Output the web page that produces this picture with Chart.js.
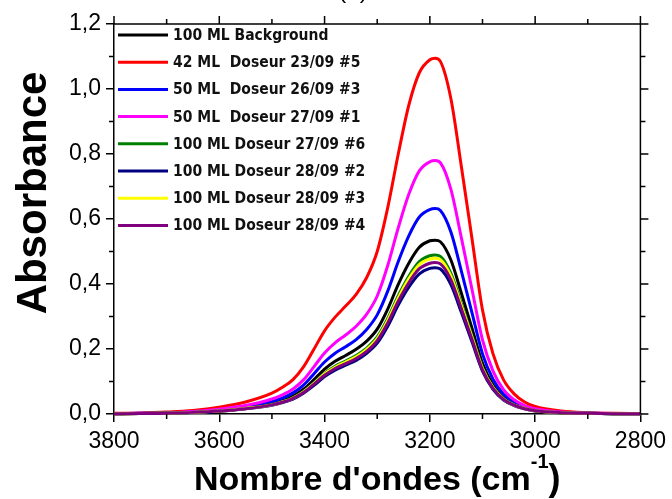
<!DOCTYPE html>
<html>
<head>
<meta charset="utf-8">
<script src="https://cdn.jsdelivr.net/npm/chart.js@4.4.1/dist/chart.umd.min.js"></script>
<style>
  html, body { margin: 0; padding: 0; background: #ffffff; }
  #wrap { width: 672px; height: 499px; position: relative; }
</style>
</head>
<body>
<div id="wrap"><canvas id="c" width="672" height="499"></canvas></div>
<script>
// ---- data ----
const wavenumbers = [3800,3750,3700,3650,3600,3550,3500,3480,3460,3440,3420,3400,3380,3360,3340,3320,3300,3280,3260,3240,3220,3200,3190,3180,3160,3140,3120,3100,3080,3060,3040,3020,3000,2950,2900,2850,2800];

const seriesLabels = [
  "100 ML Background",
  "42 ML  Doseur 23/09 #5",
  "50 ML  Doseur 26/09 #3",
  "50 ML  Doseur 27/09 #1",
  "100 ML Doseur 27/09 #6",
  "100 ML Doseur 28/09 #2",
  "100 ML Doseur 28/09 #3",
  "100 ML Doseur 28/09 #4"
];

const background100 = [0.001,0.0015,0.003,0.005,0.010,0.018,0.032,0.042,0.055,0.076,0.106,0.138,0.162,0.180,0.199,0.224,0.261,0.323,0.399,0.464,0.513,0.533,0.535,0.530,0.474,0.371,0.264,0.156,0.090,0.051,0.030,0.018,0.011,0.004,0.002,0.001,0.0005];
const doseur42_2309_5 = [0.002,0.003,0.006,0.011,0.021,0.037,0.064,0.082,0.106,0.145,0.200,0.256,0.298,0.332,0.368,0.420,0.500,0.635,0.800,0.950,1.050,1.090,1.095,1.085,0.970,0.760,0.540,0.320,0.185,0.105,0.062,0.037,0.023,0.009,0.004,0.002,0.001];
const doseur50_2609_3 = [0.001,0.002,0.003,0.006,0.012,0.021,0.038,0.049,0.065,0.089,0.124,0.160,0.187,0.207,0.229,0.260,0.305,0.378,0.469,0.548,0.606,0.629,0.632,0.626,0.560,0.439,0.312,0.185,0.107,0.061,0.036,0.021,0.013,0.005,0.002,0.001,0.001];
const doseur50_2709_1 = [0.001,0.002,0.004,0.008,0.015,0.026,0.046,0.059,0.077,0.105,0.146,0.188,0.219,0.243,0.270,0.307,0.363,0.457,0.573,0.676,0.748,0.776,0.780,0.773,0.691,0.541,0.384,0.228,0.132,0.075,0.044,0.026,0.016,0.006,0.003,0.0015,0.001];
const doseur100_2709_6 = [0.001,0.0013,0.0027,0.005,0.009,0.017,0.029,0.038,0.050,0.069,0.096,0.125,0.147,0.163,0.180,0.203,0.237,0.294,0.364,0.424,0.469,0.487,0.489,0.485,0.433,0.339,0.241,0.143,0.083,0.047,0.028,0.017,0.010,0.004,0.002,0.001,0.0005];
const doseur100_2809_2 = [0.001,0.0012,0.0025,0.0046,0.008,0.016,0.027,0.035,0.046,0.064,0.088,0.115,0.135,0.150,0.165,0.187,0.218,0.270,0.335,0.390,0.431,0.448,0.450,0.446,0.398,0.312,0.222,0.132,0.076,0.043,0.026,0.016,0.009,0.004,0.002,0.001,0.0005];
const doseur100_2809_3 = [0.001,0.0013,0.0026,0.005,0.009,0.017,0.028,0.037,0.049,0.068,0.094,0.123,0.144,0.160,0.176,0.199,0.232,0.288,0.357,0.416,0.460,0.477,0.479,0.475,0.424,0.332,0.236,0.140,0.081,0.046,0.027,0.017,0.010,0.004,0.002,0.001,0.0005];
const doseur100_2809_4 = [0.001,0.0012,0.0026,0.005,0.009,0.016,0.028,0.036,0.048,0.066,0.092,0.119,0.140,0.155,0.171,0.193,0.226,0.280,0.347,0.404,0.447,0.464,0.466,0.462,0.413,0.323,0.230,0.136,0.079,0.045,0.027,0.016,0.010,0.004,0.002,0.001,0.0005];

const xTicks = [3800,3600,3400,3200,3000,2800];
const yTicks = [0.0,0.2,0.4,0.6,0.8,1.0,1.2];

// ---- styling ----
const allSeries = [background100, doseur42_2309_5, doseur50_2609_3, doseur50_2709_1, doseur100_2709_6, doseur100_2809_2, doseur100_2809_3, doseur100_2809_4];
const colors = ["#000000","#ff0000","#0000ff","#ff00ff","#008000","#000080","#ffff00","#800080"];

const datasets = allSeries.map((vals, i) => ({
  label: seriesLabels[i],
  data: wavenumbers.map((w, k) => ({ x: w, y: vals[k] })),
  borderColor: colors[i],
  backgroundColor: colors[i],
  borderWidth: 3,
  pointRadius: 0,
  fill: false,
  cubicInterpolationMode: 'monotone',
  clip: false,
  order: allSeries.length - i
}));

const TICK_FONT = { family: "'Liberation Sans', Arial, sans-serif", size: 23 };

const extras = {
  id: 'extras',
  afterDraw(chart) {
    const ctx = chart.ctx;
    const a = chart.chartArea;
    const xs = chart.scales.x, ys = chart.scales.y;
    ctx.save();
    ctx.strokeStyle = '#000';
    ctx.lineWidth = 1.5;
    // frame top & right
    ctx.beginPath();
    ctx.moveTo(a.left, a.top); ctx.lineTo(a.right, a.top);
    ctx.moveTo(a.right, a.top); ctx.lineTo(a.right, a.bottom);
    ctx.stroke();
    // x ticks on top (major+minor), minor at bottom
    ctx.beginPath();
    for (let v = 2800; v <= 3800; v += 100) {
      const px = xs.getPixelForValue(v);
      const major = (v % 200 === 0);
      const len = major ? 8 : 5;
      ctx.moveTo(px, a.top); ctx.lineTo(px, a.top - len);
      if (!major) { ctx.moveTo(px, a.bottom); ctx.lineTo(px, a.bottom + len); }
    }
    for (let k = 0; k <= 12; k++) {
      const v = k / 10;
      const py = ys.getPixelForValue(v);
      const major = (k % 2 === 0);
      const len = major ? 8 : 5;
      ctx.moveTo(a.right, py); ctx.lineTo(a.right + len, py);
      if (!major) { ctx.moveTo(a.left, py); ctx.lineTo(a.left - len, py); }
    }
    ctx.stroke();

    // legend inside plot
    const lx0 = a.left + 4, lx1 = a.left + 54, tx = a.left + 59;
    let ly = 35;
    ctx.font = "bold 15.5px 'DejaVu Sans Condensed', 'DejaVu Sans', sans-serif";
    ctx.textBaseline = 'middle';
    ctx.textAlign = 'left';
    chart.data.datasets.forEach((ds) => {
      ctx.strokeStyle = ds.borderColor;
      ctx.lineWidth = 3;
      ctx.beginPath(); ctx.moveTo(lx0, ly); ctx.lineTo(lx1, ly); ctx.stroke();
      ctx.fillStyle = '#111';
      ctx.fillText(ds.label, tx, ly + 1);
      ly += 27.2;
    });

    // axis titles
    ctx.fillStyle = '#000';
    ctx.font = "bold 42px 'Liberation Sans', Arial, sans-serif";
    ctx.save();
    ctx.translate(46, 193);
    ctx.rotate(-Math.PI / 2);
    ctx.textAlign = 'center';
    ctx.textBaseline = 'alphabetic';
    ctx.fillText('Absorbance', 0, 0);
    ctx.restore();

    ctx.font = "bold 34px 'Liberation Sans', Arial, sans-serif";
    ctx.textBaseline = 'alphabetic';
    const main = "Nombre d'ondes (cm";
    const sup = "-1";
    const close = ")";
    const wMain = ctx.measureText(main).width;
    ctx.font = "bold 20px 'Liberation Sans', Arial, sans-serif";
    const wSup = ctx.measureText(sup).width;
    ctx.font = "bold 36px 'Liberation Sans', Arial, sans-serif";
    const wClose = ctx.measureText(close).width;
    const total = wMain + wSup + wClose;
    let sx = (a.left + a.right) / 2 - total / 2;
    const base = 490;
    ctx.textAlign = 'left';
    ctx.font = "bold 34px 'Liberation Sans', Arial, sans-serif";
    ctx.fillText(main, sx, base);
    ctx.font = "bold 20px 'Liberation Sans', Arial, sans-serif";
    ctx.fillText(sup, sx + wMain, base - 22);
    ctx.font = "bold 36px 'Liberation Sans', Arial, sans-serif";
    ctx.fillText(close, sx + wMain + wSup, base);

    // partially visible panel label
    ctx.font = "24px 'Liberation Sans', Arial, sans-serif";
    ctx.textAlign = 'center';
    ctx.fillText('(a)', 353, -2);
    ctx.restore();
  }
};

new Chart(document.getElementById('c'), {
  type: 'line',
  data: { datasets },
  options: {
    responsive: false,
    animation: false,
    devicePixelRatio: 1,
    layout: { padding: { top: 24, right: 30, left: 0, bottom: 0 } },
    plugins: { legend: { display: false }, tooltip: { enabled: false }, title: { display: false } },
    scales: {
      x: {
        type: 'linear',
        reverse: true,
        min: 2800, max: 3800,
        afterFit(scale) { scale.height = 85; },
        afterBuildTicks(scale) { scale.ticks = xTicks.map(v => ({ value: v })); },
        ticks: { color: '#000', font: TICK_FONT, padding: 6, maxRotation: 0, autoSkip: false,
                 callback: (v) => String(v) },
        grid: { drawOnChartArea: false, drawTicks: true, tickLength: 8, color: '#000', lineWidth: 1.5 },
        border: { color: '#000', width: 1.5 }
      },
      y: {
        min: 0, max: 1.2,
        afterFit(scale) { scale.width = 114; },
        afterBuildTicks(scale) { scale.ticks = yTicks.map(v => ({ value: v })); },
        ticks: {
          color: '#000', font: TICK_FONT, padding: 5,
          callback: (v) => Number(v).toFixed(1).replace('.', ',')
        },
        grid: { drawOnChartArea: false, drawTicks: true, tickLength: 8, color: '#000', lineWidth: 1.5 },
        border: { color: '#000', width: 1.5 }
      }
    }
  },
  plugins: [extras]
});
</script>
</body>
</html>
